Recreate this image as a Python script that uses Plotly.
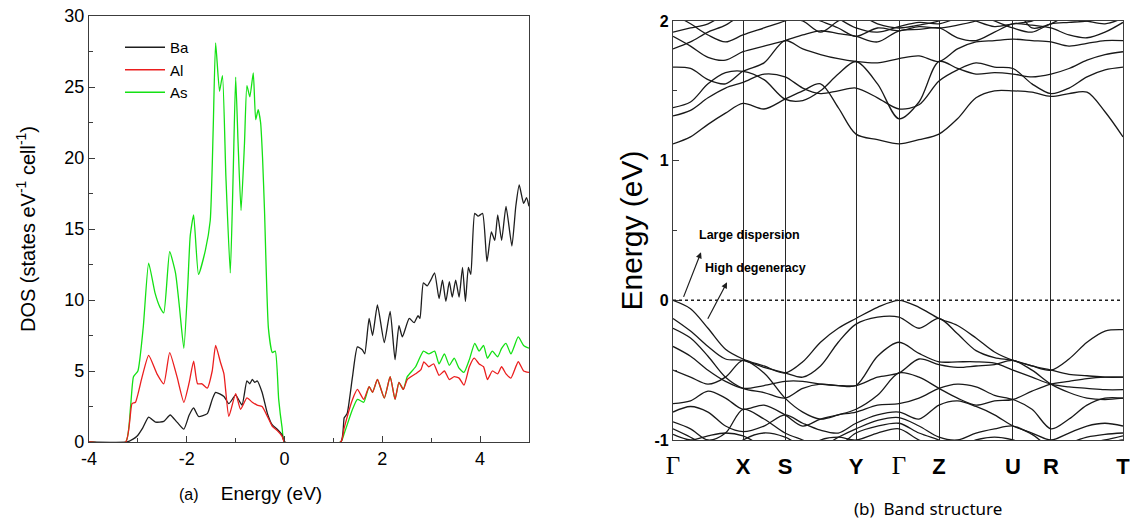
import plotly.graph_objects as go

# ---------------- DOS data (panel a) ----------------
ba_energy = [-4, -3.22, -3.10, -3.02, -2.90, -2.78, -2.64, -2.47, -2.34, -2.20,
             -2.06, -1.95, -1.86, -1.76, -1.58, -1.48, -1.41, -1.24, -1.14, -1.00,
             -0.87, -0.77, -0.71, -0.66, -0.61, -0.56, -0.46, -0.35, -0.25, -0.15,
             -0.05, 0.0, 1.15, 1.22, 1.28, 1.39, 1.49, 1.59, 1.64, 1.73,
             1.80, 1.90, 2.04, 2.16, 2.26, 2.34, 2.41, 2.55, 2.65, 2.73,
             2.77, 2.84, 2.92, 2.99, 3.07, 3.16, 3.23, 3.30, 3.37, 3.43,
             3.50, 3.57, 3.64, 3.70, 3.76, 3.81, 3.89, 3.96, 4.05, 4.14,
             4.23, 4.30, 4.36, 4.44, 4.53, 4.65, 4.73, 4.80, 4.89, 4.95,
             5.0]
ba_dos = [0, 0, 0.2, 0.4, 1.0, 1.75, 1.4, 1.45, 1.9, 1.4,
          0.9, 1.9, 2.4, 1.8, 2.0, 3.0, 3.5, 3.2, 2.7, 3.3,
          2.6, 4.3, 4.1, 4.4, 4.2, 4.3, 3.5, 2.0, 1.2, 0.9,
          0.5, 0, 0, 1.7, 2.0, 4.6, 6.7, 6.5, 6.2, 8.7,
          7.5, 9.65, 7.0, 9.2, 5.8, 8.2, 7.4, 8.7, 8.4, 8.9,
          8.7, 11.2, 11.0, 11.4, 11.9, 10.1, 11.4, 9.9, 11.3, 10.2,
          11.4, 10.2, 12.3, 9.9, 12.3, 11.8, 16.1, 15.9, 16.1, 12.7,
          14.8, 14.2, 16.0, 14.2, 16.6, 13.8, 16.6, 18.1, 16.8, 17.2,
          16.6]

al_energy = [-4, -3.25, -3.12, -3.05, -2.92, -2.78, -2.61, -2.47, -2.35, -2.20,
             -2.06, -1.95, -1.86, -1.78, -1.69, -1.58, -1.48, -1.41, -1.31, -1.24,
             -1.14, -1.00, -0.90, -0.77, -0.66, -0.56, -0.46, -0.35, -0.25, -0.15,
             -0.05, 0.0, 1.15, 1.22, 1.39, 1.49, 1.62, 1.73, 1.80, 1.90,
             2.04, 2.16, 2.26, 2.34, 2.43, 2.51, 2.68, 2.79, 2.85, 2.95,
             3.05, 3.16, 3.27, 3.37, 3.47, 3.57, 3.67, 3.78, 3.88, 3.98,
             4.07, 4.15, 4.25, 4.36, 4.44, 4.53, 4.63, 4.78, 4.89, 5.0]
al_dos = [0, 0, 2.7, 2.8, 4.5, 6.1, 4.8, 4.1, 6.3, 4.6,
          2.8, 4.2, 5.7, 4.1, 4.1, 3.8, 5.0, 6.8, 5.6, 4.8,
          1.8, 3.4, 2.3, 3.1, 2.8, 2.6, 2.5, 1.8, 1.1, 0.8,
          0.4, 0, 0, 1.0, 3.0, 3.7, 3.0, 3.9, 3.5, 4.4,
          3.1, 4.6, 3.0, 4.2, 3.7, 4.4, 4.8, 5.1, 5.65, 5.3,
          5.5, 4.7, 5.0, 4.4, 4.6, 4.5, 4.0, 5.3, 5.9, 5.5,
          5.3, 4.4, 5.0, 4.8, 5.3, 4.8, 4.5, 5.65, 5.0, 4.9]

as_energy = [-4, -3.25, -3.15, -3.09, -3.00, -2.89, -2.78, -2.65, -2.55, -2.47,
             -2.35, -2.23, -2.15, -2.06, -1.98, -1.93, -1.86, -1.76, -1.62, -1.52,
             -1.46, -1.41, -1.33, -1.27, -1.20, -1.11, -1.05, -1.00, -0.95, -0.89,
             -0.82, -0.77, -0.71, -0.64, -0.59, -0.54, -0.49, -0.45, -0.41, -0.33,
             -0.25, -0.19, -0.12, -0.05, 0.0, 1.15, 1.22, 1.39, 1.49, 1.62,
             1.73, 1.80, 1.90, 2.04, 2.16, 2.26, 2.34, 2.43, 2.51, 2.68,
             2.84, 2.95, 3.07, 3.16, 3.27, 3.37, 3.47, 3.57, 3.67, 3.78,
             3.89, 3.98, 4.07, 4.15, 4.25, 4.36, 4.44, 4.53, 4.63, 4.78,
             4.89, 5.0]
as_dos = [0, 0, 2.5, 4.6, 5.0, 8.1, 12.6, 10.5, 9.5, 9.1,
          13.4, 11.9, 9.5, 6.6, 11.0, 14.5, 16.0, 11.8, 13.5, 15.6,
          22.0, 28.1, 24.7, 25.8, 18.7, 11.9, 19.0, 25.7, 21.0, 16.3,
          21.0, 25.1, 24.3, 26.0, 22.7, 23.4, 22.5, 20.0, 16.3, 8.0,
          6.3, 6.4, 3.0, 1.0, 0, 0, 0.6, 2.3, 3.0, 2.8,
          3.9, 3.5, 4.4, 3.1, 4.6, 3.0, 4.2, 3.7, 4.6, 5.3,
          6.4, 6.2, 6.4, 5.5, 6.2, 5.4, 5.9, 5.2, 4.9, 5.8,
          6.95, 6.4, 6.8, 5.9, 6.4, 6.0, 6.6, 6.95, 6.2, 7.4,
          6.8, 6.6]

dos_ticks = [-4, -2, 0, 2, 4]
dos_ticktext = ["-4", "-2", "0", "2", "4"]

# ---------------- Band structure data (panel b) ----------------
hs_labels = ["Γ", "X", "S", "Y", "Γ", "Z", "U", "R", "T"]
hs_positions = [0, 70, 112, 183, 226, 266, 340, 378, 450]

k_path = [0, 17.5, 35, 52.5, 70, 91, 112, 129.75, 147.5, 165.25, 183,
          204.5, 226, 246, 266, 284.5, 303, 321.5, 340, 359, 378,
          396, 414, 432, 450]

valence_bands = [
    [0.00, -0.06, -0.20, -0.35, -0.42, -0.47, -0.52, -0.44, -0.30, -0.20, -0.13,
     -0.05, 0.00, -0.05, -0.13, -0.18, -0.27, -0.37, -0.43, -0.47, -0.50,
     -0.42, -0.30, -0.22, -0.21],
    [-0.13, -0.22, -0.33, -0.42, -0.43, -0.48, -0.52, -0.55, -0.47, -0.30, -0.17,
     -0.12, -0.12, -0.20, -0.13, -0.24, -0.36, -0.41, -0.43, -0.47, -0.50,
     -0.53, -0.54, -0.55, -0.55],
    [-0.20, -0.27, -0.40, -0.55, -0.63, -0.66, -0.70, -0.63, -0.60, -0.61, -0.61,
     -0.40, -0.30, -0.38, -0.44, -0.44, -0.44, -0.45, -0.50, -0.55, -0.60,
     -0.62, -0.63, -0.64, -0.64],
    [-0.33, -0.40, -0.50, -0.58, -0.63, -0.61, -0.58, -0.58, -0.60, -0.61, -0.61,
     -0.55, -0.52, -0.42, -0.46, -0.48, -0.47, -0.46, -0.43, -0.50, -0.60,
     -0.66, -0.70, -0.71, -0.70],
    [-0.50, -0.55, -0.60, -0.55, -0.43, -0.52, -0.70, -0.80, -0.85, -0.82, -0.78,
     -0.68, -0.52, -0.55, -0.63, -0.70, -0.75, -0.72, -0.71, -0.65, -0.60,
     -0.58, -0.56, -0.55, -0.55],
    [-0.74, -0.72, -0.65, -0.70, -0.78, -0.75, -0.82, -0.90, -0.85, -0.82, -0.80,
     -0.75, -0.74, -0.70, -0.63, -0.60, -0.62, -0.68, -0.71, -0.78, -0.92,
     -0.85, -0.75, -0.70, -0.70],
    [-0.80, -0.76, -0.80, -0.90, -0.94, -0.90, -0.82, -0.88, -0.93, -0.95, -0.88,
     -0.82, -0.80, -0.85, -0.75, -0.72, -0.76, -0.82, -0.90, -0.95, -1.00,
     -0.95, -0.90, -0.88, -0.90],
    [-0.87, -0.92, -1.00, -0.95, -0.78, -0.85, -0.95, -1.00, -1.05, -0.98, -0.92,
     -0.86, -0.84, -0.90, -0.98, -1.00, -0.95, -0.92, -0.90, -0.96, -1.05,
     -1.02, -0.98, -0.96, -0.95],
    [-0.92, -0.98, -1.05, -1.10, -1.00, -0.95, -0.98, -1.05, -1.10, -1.05, -0.95,
     -0.90, -0.88, -0.95, -1.00, -1.05, -1.00, -0.98, -1.00, -1.05, -1.10,
     -1.05, -1.02, -1.00, -0.97],
    [-0.96, -1.00, -0.97, -0.95, -0.97, -1.05, -1.10, -1.08, -1.00, -0.98, -1.00,
     -0.95, -0.92, -1.00, -1.05, -1.10, -1.10, -1.05, -1.02, -1.10, -1.15,
     -1.10, -1.05, -1.02, -1.00],
]

conduction_bands = [
    [1.12, 1.17, 1.26, 1.34, 1.41, 1.37, 1.44, 1.50, 1.55, 1.38, 1.19,
     1.15, 1.12, 1.15, 1.19, 1.30, 1.45, 1.50, 1.50, 1.49, 1.46,
     1.48, 1.49, 1.35, 1.17],
    [1.32, 1.36, 1.45, 1.52, 1.56, 1.62, 1.60, 1.52, 1.48, 1.50, 1.52,
     1.45, 1.37, 1.40, 1.57, 1.65, 1.70, 1.67, 1.66, 1.55, 1.48,
     1.52, 1.60, 1.65, 1.67],
    [1.38, 1.42, 1.55, 1.63, 1.64, 1.58, 1.44, 1.43, 1.50, 1.62, 1.71,
     1.55, 1.30, 1.42, 1.71, 1.66, 1.62, 1.63, 1.62, 1.60, 1.62,
     1.66, 1.72, 1.76, 1.78],
    [1.67, 1.66, 1.58, 1.55, 1.64, 1.70, 1.86, 1.80, 1.76, 1.73, 1.71,
     1.70, 1.73, 1.75, 1.71, 1.80, 1.85, 1.86, 1.87, 1.86, 1.85,
     1.82, 1.84, 1.86, 1.86],
    [1.89, 1.82, 1.74, 1.72, 1.78, 1.82, 1.86, 1.90, 1.93, 1.91, 1.89,
     1.85, 1.93, 1.94, 1.95, 1.88, 1.86, 1.92, 1.98, 1.97, 1.95,
     1.90, 1.88, 1.92, 1.99],
    [1.92, 1.95, 1.98, 2.05, 2.10, 2.05, 2.02, 2.00, 1.92, 2.00, 2.05,
     1.98, 1.95, 1.97, 2.00, 2.05, 2.00, 1.96, 1.98, 2.00, 2.05,
     2.02, 2.00, 1.98, 2.02],
    [1.80, 1.85, 1.92, 1.97, 2.05, 2.10, 2.10, 2.05, 2.00, 1.95, 1.89,
     1.95, 1.93, 1.96, 1.95, 1.97, 2.00, 2.05, 2.10, 1.95, 1.98,
     2.05, 2.08, 2.10, 2.12],
    [2.05, 1.98, 1.90, 1.85, 1.90, 1.95, 2.00, 2.05, 2.10, 2.02, 1.95,
     1.92, 1.96, 1.99, 1.98, 2.02, 2.05, 2.00, 1.95, 1.92, 1.98,
     1.99, 2.00, 2.02, 2.05],
]

W, H = 1130, 527
# pixel boxes of the two plot areas
L = dict(x0=89, x1=529, y0=16, y1=442)
R = dict(x0=673, x1=1123, y0=21, y1=440)


def dom_x(b):
    return [b["x0"] / W, b["x1"] / W]


def dom_y(b):
    return [(H - b["y1"]) / H, (H - b["y0"]) / H]


fig = go.Figure()

dos_line = dict(width=1.3, shape="spline", smoothing=0.5)
fig.add_trace(go.Scatter(x=as_energy, y=as_dos, name="As", mode="lines",
                         line=dict(color="rgb(20,225,20)", **dos_line),
                         legendrank=3, xaxis="x", yaxis="y"))
fig.add_trace(go.Scatter(x=ba_energy, y=ba_dos, name="Ba", mode="lines",
                         line=dict(color="rgb(30,30,30)", **dos_line),
                         legendrank=1, xaxis="x", yaxis="y"))
fig.add_trace(go.Scatter(x=al_energy, y=al_dos, name="Al", mode="lines",
                         line=dict(color="rgb(235,30,30)", **dos_line),
                         legendrank=2, xaxis="x", yaxis="y"))

for band in valence_bands + conduction_bands:
    fig.add_trace(go.Scatter(x=k_path, y=band, mode="lines", showlegend=False,
                             line=dict(color="rgb(25,25,25)", width=1.3,
                                       shape="spline", smoothing=0.9),
                             hoverinfo="skip", xaxis="x2", yaxis="y2"))

axis_common = dict(showline=True, linecolor="rgb(60,60,60)", linewidth=1.2,
                   mirror=True, showgrid=False, zeroline=False, automargin=False)

gamma = '<span style="font-family:Liberation Serif;font-weight:normal;font-size:25px">Γ</span>'
ticktext = [gamma if s == "Γ" else "<b>%s</b>" % s for s in hs_labels]

fig.update_layout(
    width=W, height=H, margin=dict(l=0, r=0, t=0, b=0, autoexpand=False),
    paper_bgcolor="white", plot_bgcolor="white",
    font=dict(family="Liberation Sans, Arial", color="black"),
    showlegend=True,
    legend=dict(x=120 / W, y=(H - 31) / H, xanchor="left", yanchor="top",
                bgcolor="rgba(0,0,0,0)", font=dict(size=15),
                tracegroupgap=0, itemwidth=40),
    xaxis=dict(domain=dom_x(L), range=[-4, 5], tickvals=dos_ticks,
               ticktext=dos_ticktext,
               ticks="inside", ticklen=6, tickcolor="rgb(60,60,60)",
               minor=dict(ticks="inside", ticklen=4, dtick=1, tick0=0,
                          tickcolor="rgb(60,60,60)"),
               tickfont=dict(size=18), anchor="y", **axis_common),
    yaxis=dict(domain=dom_y(L), range=[0, 30], tickvals=[0, 5, 10, 15, 20, 25, 30],
               ticks="inside", ticklen=6, tickcolor="rgb(60,60,60)",
               minor=dict(ticks="inside", ticklen=4, dtick=2.5, tick0=0,
                          tickcolor="rgb(60,60,60)"),
               tickfont=dict(size=18), anchor="x",
               title=dict(text="DOS (states eV<sup>-1</sup> cell<sup>-1</sup>)",
                          font=dict(size=20), standoff=23),
               **axis_common),
    xaxis2=dict(domain=dom_x(R), range=[-0.01, 450.01], tickvals=hs_positions,
                ticktext=ticktext, ticks="", showgrid=True,
                gridcolor="rgb(40,40,40)", gridwidth=1.2, ticklabelstandoff=6,
                ticklabeloverflow="allow",
                tickfont=dict(size=22, family="Liberation Sans, Arial"),
                anchor="y2", showline=True, linecolor="rgb(60,60,60)",
                linewidth=1.2, mirror=True, zeroline=False, automargin=False),
    yaxis2=dict(domain=dom_y(R), range=[-1, 2], tickvals=[-1, 0, 1, 2],
                ticktext=["<b>-1</b>", "<b>0</b>", "<b>1</b>", "<b>2</b>"],
                ticks="inside", ticklen=6, tickcolor="rgb(60,60,60)",
                minor=dict(ticks="inside", ticklen=4, dtick=0.5, tick0=0,
                           tickcolor="rgb(60,60,60)"),
                tickfont=dict(size=16), anchor="x2",
                title=dict(text="Energy (eV)", font=dict(size=30), standoff=2),
                **axis_common),
)

# Fermi level dotted line
fig.add_shape(type="line", xref="x2", yref="y2", x0=0, x1=450, y0=0, y1=0,
              line=dict(color="rgb(30,30,30)", width=1.5, dash="dot"))

# text labels and arrows in panel b
fig.add_annotation(xref="x2", yref="y2", x=24, y=0.47, text="<b>Large dispersion</b>",
                   showarrow=False, xanchor="left", yanchor="middle", font=dict(size=12.5))
fig.add_annotation(xref="x2", yref="y2", x=30, y=0.23, text="<b>High degeneracy</b>",
                   showarrow=False, xanchor="left", yanchor="middle", font=dict(size=12.5))
fig.add_annotation(xref="x2", yref="y2", x=28, y=0.344, axref="x2", ayref="y2",
                   ax=10, ay=0.014, text="", showarrow=True, arrowhead=2,
                   arrowsize=1, arrowwidth=1.2, arrowcolor="rgb(30,30,30)")
fig.add_annotation(xref="x2", yref="y2", x=54, y=0.129, axref="x2", ayref="y2",
                   ax=34, ay=-0.143, text="", showarrow=True, arrowhead=2,
                   arrowsize=1, arrowwidth=1.2, arrowcolor="rgb(30,30,30)")

# panel captions
fig.add_annotation(xref="paper", yref="paper", x=250 / W, y=(H - 493) / H,
                   yanchor="middle", xanchor="center",
                   text="(a)&nbsp;&nbsp;&nbsp;&nbsp;&nbsp;<span style='font-size:19px'>Energy (eV)</span>",
                   showarrow=False, font=dict(size=16))
fig.add_annotation(xref="paper", yref="paper", x=928 / W, y=(H - 508) / H,
                   yanchor="middle", xanchor="center",
                   text="(b)&nbsp;&nbsp;Band structure", showarrow=False,
                   font=dict(size=17, family="Noto Sans, Open Sans"))

fig.write_html("out.html", config={"displayModeBar": False},
               post_script="document.body.style.margin='0';document.body.style.overflow='hidden';")
